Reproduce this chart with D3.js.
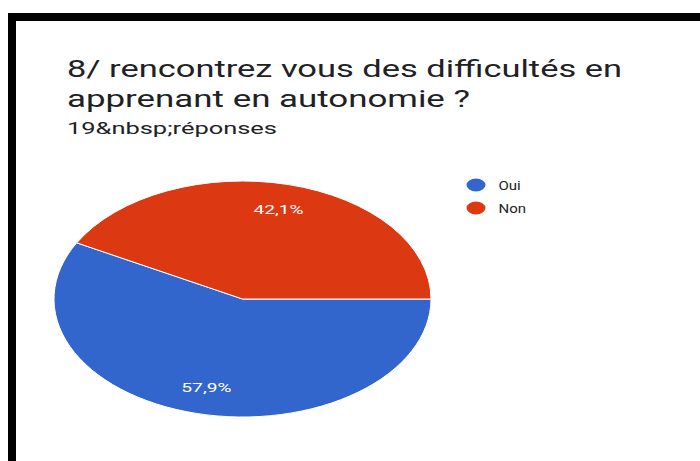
<!DOCTYPE html>
<html>
<head>
<meta charset="utf-8">
<script src="https://cdn.jsdelivr.net/npm/d3@7"></script>
<style>
  body { margin: 0; background: #fff; }
  text { font-family: Roboto, "Noto Sans", sans-serif; }
</style>
</head>
<body>
<script>
// data (19 answers)
var categories = ["Oui", "Non"];
var counts = [11, 8];
var colors = ["#3366cc", "#dc3912"];
var titleLines = ["8/ rencontrez vous des difficultés en", "apprenant en autonomie ?"];
var subtitle = "19&nbsp;réponses";

var w = 700;
var h = 461;

var svg = d3.select("body").append("svg").attr("width", w).attr("height", h);

// black frame (top and left only, like the screenshot)
svg.append("rect").attr("x", 8).attr("y", 13).attr("width", w - 8).attr("height", 8).attr("fill", "#000");
svg.append("rect").attr("x", 8).attr("y", 13).attr("width", 8).attr("height", h - 13).attr("fill", "#000");

// title, stretched the same way as the screenshot
var titleWidths = [555, 403];
svg.selectAll("text.title")
  .data(titleLines)
  .enter()
  .append("text")
  .attr("class", "title")
  .attr("x", 67)
  .attr("y", function (d, i) { return 77 + i * 30; })
  .attr("font-size", 24)
  .attr("fill", "#202124")
  .attr("textLength", function (d, i) { return titleWidths[i]; })
  .attr("lengthAdjust", "spacingAndGlyphs")
  .text(function (d) { return d; });

svg.append("text")
  .attr("x", 67)
  .attr("y", 134)
  .attr("font-size", 16)
  .attr("fill", "#202124")
  .attr("textLength", 210)
  .attr("lengthAdjust", "spacingAndGlyphs")
  .text(subtitle);

// pie, squashed into an ellipse
var r = 118;
var sx = 188.5 / r;
var total = d3.sum(counts);

var pie = d3.pie().sort(null)
  .startAngle(Math.PI / 2)
  .endAngle(Math.PI / 2 + 2 * Math.PI);
var arcs = pie(counts);

var arc = d3.arc().innerRadius(0).outerRadius(r);
var labelArc = d3.arc().innerRadius(r * 0.78).outerRadius(r * 0.78);

var g = svg.append("g").attr("transform", "translate(242.5,299)");
var slices = g.append("g").attr("transform", "scale(" + sx + ",1)");

slices.selectAll("path")
  .data(arcs)
  .enter()
  .append("path")
  .attr("d", arc)
  .attr("fill", function (d, i) { return colors[i]; })
  .attr("stroke", "#fff")
  .attr("stroke-width", 1)
  .attr("vector-effect", "non-scaling-stroke");

var fmt = function (v) {
  return (v / total * 100).toFixed(1).replace(".", ",") + "%";
};

g.selectAll("text.lbl")
  .data(arcs)
  .enter()
  .append("text")
  .attr("class", "lbl")
  .attr("transform", function (d) {
    var c = labelArc.centroid(d);
    return "translate(" + c[0] * sx + "," + (c[1] + 4) + ") scale(" + sx + ",1)";
  })
  .attr("text-anchor", "middle")
  .attr("font-size", 12)
  .attr("fill", "#fff")
  .text(function (d) { return fmt(d.value); });

// legend
var legend = svg.selectAll("g.legend")
  .data(categories)
  .enter()
  .append("g")
  .attr("class", "legend")
  .attr("transform", function (d, i) { return "translate(476," + (185 + i * 23) + ")"; });

legend.append("ellipse")
  .attr("rx", 9.5)
  .attr("ry", 6.5)
  .attr("fill", function (d, i) { return colors[i]; });

legend.append("text")
  .attr("x", 18)
  .attr("y", 4.5)
  .attr("font-size", 12)
  .attr("fill", "#222")
  .attr("transform", "scale(1.25,1)")
  .text(function (d) { return d; });
</script>
</body>
</html>
